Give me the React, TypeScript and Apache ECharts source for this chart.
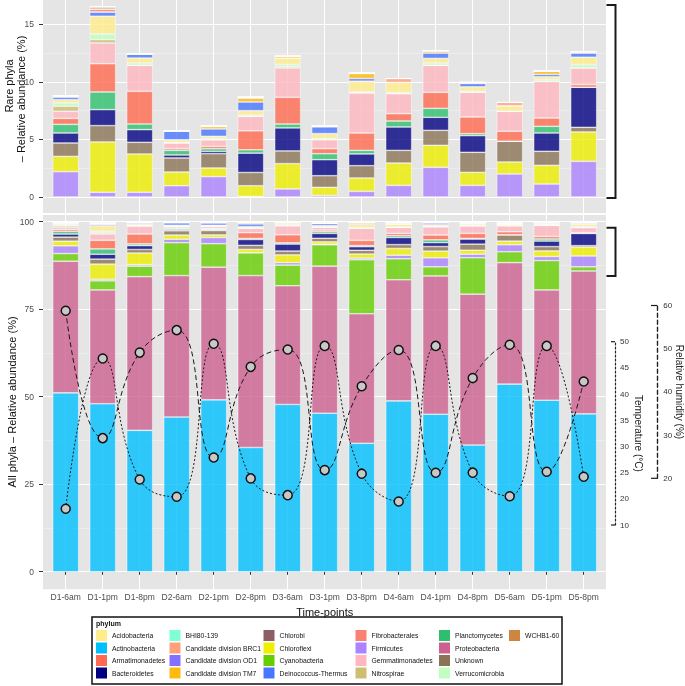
import React, { useEffect, useRef } from 'react';
import * as echarts from 'echarts';

const categories = ['D1-6am', 'D1-1pm', 'D1-8pm', 'D2-6am', 'D2-1pm', 'D2-8pm', 'D3-6am', 'D3-1pm', 'D3-8pm', 'D4-6am', 'D4-1pm', 'D4-8pm', 'D5-6am', 'D5-1pm', 'D5-8pm'];

// Dominant phyla (bottom panel only), % relative abundance
const actinobacteria = [51.1, 48.0, 40.4, 44.2, 49.1, 35.5, 47.8, 45.3, 36.7, 48.8, 45.0, 36.2, 53.6, 49.0, 45.1];
const proteobacteria = [37.6, 32.5, 43.9, 40.4, 37.9, 49.1, 33.9, 42.0, 37.0, 34.6, 39.5, 43.1, 34.7, 31.5, 40.8];
const cyanobacteria = [2.2, 2.6, 3.0, 9.4, 6.7, 6.5, 5.9, 6.1, 15.4, 6.0, 2.6, 10.4, 3.1, 8.4, 1.2];

// Rare phyla (both panels), in stacking order from the bottom
const firmicutes = [2.2, 0.41, 0.41, 0.98, 1.77, 0.05, 0.7, 0.14, 0.49, 1.01, 2.58, 1.01, 2.0, 1.13, 3.1];
const chloroflexi = [1.33, 4.37, 3.33, 1.19, 0.75, 0.93, 2.2, 0.7, 1.16, 1.94, 1.91, 1.13, 1.04, 1.62, 2.55];
const unknown = [1.16, 1.42, 1.01, 1.22, 1.24, 1.15, 1.1, 1.01, 1.07, 1.1, 1.3, 1.74, 1.8, 1.22, 0.4];
const bacteroidetes = [0.87, 1.39, 1.1, 0.26, 0.2, 1.68, 2.0, 1.39, 1.02, 2.03, 1.13, 1.45, 0, 1.59, 3.48];
const planctomycetes = [0.75, 1.53, 0.49, 0.4, 0.23, 0.29, 0.34, 0.52, 0.31, 0.52, 0.78, 0.17, 0, 0.58, 0];
const armatimonadetes = [0.52, 2.46, 2.84, 0.15, 0.2, 1.65, 2.32, 0.44, 1.51, 0.64, 1.39, 1.45, 0.87, 0.72, 0.23];
const gemmatimonadetes = [0.61, 1.8, 2.26, 0.49, 0.58, 1.25, 2.55, 0.78, 3.48, 1.74, 2.35, 2.14, 1.73, 3.19, 1.45];
const nitrospirae = [0.44, 0.29, 0, 0, 0, 0, 0.1, 0, 0, 0, 0, 0, 0, 0, 0];
const verrucomicrobia = [0.29, 0.49, 0.2, 0.05, 0.1, 0.1, 0.2, 0.1, 0.1, 0.1, 0.2, 0.1, 0, 0.15, 0.29];
const acidobacteria = [0.29, 1.54, 0.43, 0.23, 0.2, 0.4, 0.55, 0.43, 0.92, 0.87, 0.4, 0.38, 0.49, 0.25, 0.64];
const deinococcus = [0.23, 0.37, 0.35, 0.76, 0.64, 0.75, 0, 0.59, 0.23, 0, 0.46, 0.29, 0, 0.2, 0.38];
const tm7 = [0, 0, 0, 0, 0.2, 0.35, 0.17, 0, 0.44, 0, 0.2, 0, 0, 0.29, 0];
const fibrobacterales = [0.05, 0.25, 0, 0, 0.05, 0, 0, 0.05, 0, 0, 0, 0, 0, 0, 0];
const brc1 = [0.05, 0, 0, 0, 0, 0.05, 0, 0, 0, 0.34, 0, 0.1, 0.29, 0, 0.1];
const wchb160 = [0, 0.2, 0, 0, 0, 0, 0, 0, 0, 0, 0, 0, 0, 0, 0];
const chlorobi = [0, 0, 0.05, 0, 0, 0.05, 0, 0, 0.05, 0, 0, 0, 0, 0, 0];
const bhi80 = [0, 0, 0, 0.05, 0, 0, 0, 0.05, 0, 0, 0, 0, 0, 0, 0];
const od1 = [0, 0, 0, 0, 0.05, 0, 0, 0, 0, 0, 0, 0.05, 0, 0, 0];

// Environmental measurements
const humidity = [58.8, 29.3, 49.1, 54.3, 24.8, 45.8, 49.8, 21.9, 41.3, 49.7, 21.3, 43.2, 50.9, 21.5, 42.4];
const temperature = [18.1, 46.8, 23.7, 20.4, 49.6, 23.9, 20.7, 49.2, 24.8, 19.5, 49.2, 25.0, 20.5, 49.2, 24.2];
const tempTickLabels = ['10', '20', '25', '30', '35', '40', '45', '50'];

const rareSeries: [string, number[]][] = [
  ['Firmicutes', firmicutes],
  ['Chloroflexi', chloroflexi],
  ['Unknown', unknown],
  ['Bacteroidetes', bacteroidetes],
  ['Planctomycetes', planctomycetes],
  ['Armatimonadetes', armatimonadetes],
  ['Gemmatimonadetes', gemmatimonadetes],
  ['Nitrospirae', nitrospirae],
  ['Verrucomicrobia', verrucomicrobia],
  ['Acidobacteria', acidobacteria],
  ['Deinococcus-Thermus', deinococcus],
  ['Candidate division TM7', tm7],
  ['Fibrobacterales', fibrobacterales],
  ['Candidate division BRC1', brc1],
  ['WCHB1-60', wchb160],
  ['Chlorobi', chlorobi],
  ['BHI80-139', bhi80],
  ['Candidate division OD1', od1],
];
const dominantSeries: [string, number[]][] = [
  ['Actinobacteria', actinobacteria],
  ['Proteobacteria', proteobacteria],
  ['Cyanobacteria', cyanobacteria],
];

const legendColumns = [
  ['Acidobacteria', 'Actinobacteria', 'Armatimonadetes', 'Bacteroidetes'],
  ['BHI80-139', 'Candidate division BRC1', 'Candidate division OD1', 'Candidate division TM7'],
  ['Chlorobi', 'Chloroflexi', 'Cyanobacteria', 'Deinococcus-Thermus'],
  ['Fibrobacterales', 'Firmicutes', 'Gemmatimonadetes', 'Nitrospirae'],
  ['Planctomycetes', 'Proteobacteria', 'Unknown', 'Verrucomicrobia'],
  ['WCHB1-60'],
];

const colors: Record<string, string> = {
  'Acidobacteria': '#FFEC8B',
  'Actinobacteria': '#00BFFF',
  'Armatimonadetes': '#FF6A50',
  'Bacteroidetes': '#000080',
  'BHI80-139': '#7FFFD4',
  'Candidate division BRC1': '#FFA07A',
  'Candidate division OD1': '#8470FF',
  'Candidate division TM7': '#FFB90F',
  'Chlorobi': '#8B5F65',
  'Chloroflexi': '#EEEE00',
  'Cyanobacteria': '#66CD00',
  'Deinococcus-Thermus': '#4876FF',
  'Fibrobacterales': '#FA8072',
  'Firmicutes': '#AB82FF',
  'Gemmatimonadetes': '#FFB6C1',
  'Nitrospirae': '#CDBE70',
  'Planctomycetes': '#2EBF6E',
  'Proteobacteria': '#CD6090',
  'Unknown': '#8B7355',
  'Verrucomicrobia': '#C1FFC1',
  'WCHB1-60': '#CD853F',
};

const FONT = '"Liberation Sans", Arial, Helvetica, sans-serif';

// layout constants (pixels)
const PANEL_L = 43, PANEL_W = 563;
const BAND_L = 47.2, BAND_W = 555;
const X_MIN = -0.6135, X_MAX = 14.603;
const LEGEND_BOX = { x: 92, y: 617, w: 470, h: 67 };
const LEGEND_COL_X = [96, 169.5, 263.5, 355.5, 439, 509];

function hiddenValueAxis(gridIndex: number) {
  return { type: 'value', gridIndex, show: false, min: 0, max: 1 };
}

function vGridAxis(gridIndex: number) {
  return {
    type: 'value', gridIndex, min: X_MIN, max: X_MAX, minInterval: 1, maxInterval: 1,
    axisLine: { show: false }, axisTick: { show: false }, axisLabel: { show: false },
    splitLine: { show: true, showMinLine: false, showMaxLine: false, lineStyle: { color: '#ffffff', width: 1 } },
  };
}

function barSeries(name: string, data: number[], axis: number, stack: string) {
  return {
    type: 'bar',
    name,
    xAxisIndex: axis,
    yAxisIndex: axis,
    stack,
    barWidth: 26,
    data,
    itemStyle: { color: colors[name], opacity: 0.8, borderColor: '#ffffff', borderWidth: 0.6 },
    emphasis: { disabled: true },
  };
}

function buildOption() {
  const leftAxisCommon = {
    axisLine: { show: false },
    axisTick: { show: true, length: 4, lineStyle: { color: '#333', width: 1 } },
    axisLabel: { fontSize: 8.5, color: '#4D4D4D', margin: 9, fontFamily: FONT },
    splitLine: { show: true, lineStyle: { color: '#ffffff', width: 1 } },
    minorTick: { show: false, splitNumber: 2 },
    minorSplitLine: { show: true, lineStyle: { color: '#F2F2F2', width: 0.6 } },
  };

  const gb = { outerBoundsMode: 'none', containLabel: false };
  const grid = [
    { ...gb, left: PANEL_L, top: 0, width: PANEL_W, height: 213, show: true, backgroundColor: '#E5E5E5', borderWidth: 0 },
    { ...gb, left: PANEL_L, top: 24.3, width: PANEL_W, height: 172.7 },
    { ...gb, left: BAND_L, top: 0, width: BAND_W, height: 213 },
    { ...gb, left: PANEL_L, top: 215, width: PANEL_W, height: 374.3, show: true, backgroundColor: '#E5E5E5', borderWidth: 0 },
    { ...gb, left: PANEL_L, top: 221.7, width: PANEL_W, height: 350 },
    { ...gb, left: BAND_L, top: 215, width: BAND_W, height: 374.3 },
    { ...gb, left: BAND_L, top: 341.7, width: BAND_W, height: 183.3 },
    { ...gb, left: BAND_L, top: 305.5, width: BAND_W, height: 172.8 },
  ];

  const xAxis = [
    vGridAxis(0),
    hiddenValueAxis(1),
    { type: 'category', gridIndex: 2, data: categories, axisLine: { show: false }, axisTick: { show: false }, axisLabel: { show: false }, splitLine: { show: false } },
    vGridAxis(3),
    hiddenValueAxis(4),
    {
      type: 'category', gridIndex: 5, data: categories,
      axisLine: { show: false }, splitLine: { show: false },
      axisTick: { show: true, alignWithLabel: true, length: 3, lineStyle: { color: '#333' } },
      axisLabel: { fontSize: 8.5, color: '#4D4D4D', margin: 3, fontFamily: FONT, interval: 0 },
      name: 'Time-points',
      nameLocation: 'middle',
      nameGap: 16,
      nameTextStyle: { fontSize: 11, color: '#111', fontFamily: FONT },
    },
    { type: 'category', gridIndex: 6, data: categories, show: false },
    { type: 'category', gridIndex: 7, data: categories, show: false },
  ];

  const yAxis = [
    hiddenValueAxis(0),
    { type: 'value', gridIndex: 1, min: 0, max: 15, interval: 5, ...leftAxisCommon },
    { type: 'value', gridIndex: 2, min: -1.39, max: 17.11, show: false },
    hiddenValueAxis(3),
    { type: 'value', gridIndex: 4, min: 0, max: 100, interval: 25, ...leftAxisCommon },
    { type: 'value', gridIndex: 5, min: -5, max: 101.9, show: false },
    {
      type: 'value', gridIndex: 6, position: 'right', offset: 12.8, min: 15, max: 50, interval: 5,
      axisLine: { show: true, lineStyle: { color: '#222', type: [2, 2], width: 1.2 } },
      axisTick: { show: false },
      splitLine: { show: false },
      axisLabel: { fontSize: 8, color: '#333', margin: 5, fontFamily: FONT, formatter: (_v: number, i: number) => tempTickLabels[i] },
      name: 'Temperature (°C)', nameLocation: 'middle', nameRotate: -90, nameGap: 18, nameMoveOverlap: false,
      nameTextStyle: { fontSize: 10, color: '#222', fontFamily: FONT, padding: [0, 0, 0, 0] },
    },
    {
      type: 'value', gridIndex: 7, position: 'right', offset: 55.1, min: 20, max: 60, interval: 10,
      axisLine: { show: true, lineStyle: { color: '#222', type: [4, 3], width: 1.4 } },
      axisTick: { show: false },
      splitLine: { show: false },
      axisLabel: { fontSize: 8, color: '#333', margin: 6, fontFamily: FONT },
      name: 'Relative humidity (%)', nameLocation: 'middle', nameRotate: -90, nameGap: 17, nameMoveOverlap: false,
      nameTextStyle: { fontSize: 10, color: '#222', fontFamily: FONT },
    },
  ];

  const series: any[] = [];
  rareSeries.forEach(([n, d]) => series.push(barSeries(n, d, 2, 'top')));
  dominantSeries.forEach(([n, d]) => series.push(barSeries(n, d, 5, 'bottom')));
  rareSeries.forEach(([n, d]) => series.push(barSeries(n, d, 5, 'bottom')));

  const pointStyle = { color: '#C8C8C8', borderColor: '#111', borderWidth: 1.5 };
  series.push({
    type: 'line', name: 'Relative humidity', xAxisIndex: 7, yAxisIndex: 7, data: humidity,
    smooth: 0.5, clip: false, symbol: 'circle', symbolSize: 9, z: 10,
    lineStyle: { color: '#1a1a1a', width: 1, type: [5, 3] }, itemStyle: pointStyle,
  });
  series.push({
    type: 'line', name: 'Temperature', xAxisIndex: 6, yAxisIndex: 6, data: temperature,
    smooth: 0.5, clip: false, symbol: 'circle', symbolSize: 9, z: 10,
    lineStyle: { color: '#1a1a1a', width: 1, type: [2, 2] }, itemStyle: pointStyle,
  });

  const bracket = (pts: number[][], thin?: boolean) => ({
    type: 'polyline', z: 100, silent: true,
    shape: { points: pts },
    style: { stroke: '#1a1a1a', lineWidth: thin ? 1.2 : 2, fill: 'none' },
  });

  const graphic = [
    { type: 'text', z: 100, x: 9, y: 86, rotation: Math.PI / 2, style: { text: 'Rare phyla', fontSize: 11, fontFamily: FONT, fill: '#111', align: 'center', verticalAlign: 'middle' } },
    { type: 'text', z: 100, x: 21, y: 99, rotation: Math.PI / 2, style: { text: '– Relative abundance (%)', fontSize: 11, fontFamily: FONT, fill: '#111', align: 'center', verticalAlign: 'middle' } },
    { type: 'text', z: 100, x: 12, y: 402, rotation: Math.PI / 2, style: { text: 'All phyla – Relative abundance (%)', fontSize: 11, fontFamily: FONT, fill: '#111', align: 'center', verticalAlign: 'middle' } },
    bracket([[606.5, 5], [615.5, 5], [615.5, 198], [606.5, 198]]),
    bracket([[606.5, 227.7], [615.5, 227.7], [615.5, 276], [606.5, 276]]),
    bracket([[611, 341.7], [615, 341.7]], true),
    bracket([[611, 525], [615, 525]], true),
    bracket([[651, 305.5], [657.3, 305.5]], true),
    bracket([[651, 478.3], [657.3, 478.3]], true),
    { type: 'rect', z: 100, silent: true, shape: { x: LEGEND_BOX.x, y: LEGEND_BOX.y, width: LEGEND_BOX.w, height: LEGEND_BOX.h }, style: { fill: 'none', stroke: '#111', lineWidth: 1.5 } },
    { type: 'text', z: 100, x: LEGEND_BOX.x + 4, y: LEGEND_BOX.y + 6.5, style: { text: 'phylum', fontSize: 7, fontWeight: 'bold', fontFamily: FONT, fill: '#111', verticalAlign: 'middle' } },
  ];

  const legend = legendColumns.map((col, i) => ({
    data: col,
    orient: 'vertical',
    left: LEGEND_COL_X[i], top: LEGEND_BOX.y + 13,
    itemWidth: 11, itemHeight: 11, itemGap: 1.5,
    icon: 'rect',
    padding: 0,
    selectedMode: false,
    itemStyle: { opacity: 1, borderWidth: 0 },
    textStyle: { fontSize: 6.8, color: '#111', fontFamily: FONT },
  }));

  return {
    animation: false,
    textStyle: { fontFamily: FONT },
    grid, xAxis, yAxis, series, graphic, legend,
  };
}

export default function App() {
  const ref = useRef<HTMLDivElement>(null);
  useEffect(() => {
    const chart = echarts.init(ref.current as HTMLDivElement, null, { renderer: 'svg' });
    chart.setOption(buildOption() as any);
    return () => chart.dispose();
  }, []);
  return <div ref={ref} style={{ position: 'fixed', left: 0, top: 0, width: 685, height: 686 }} />;
}
